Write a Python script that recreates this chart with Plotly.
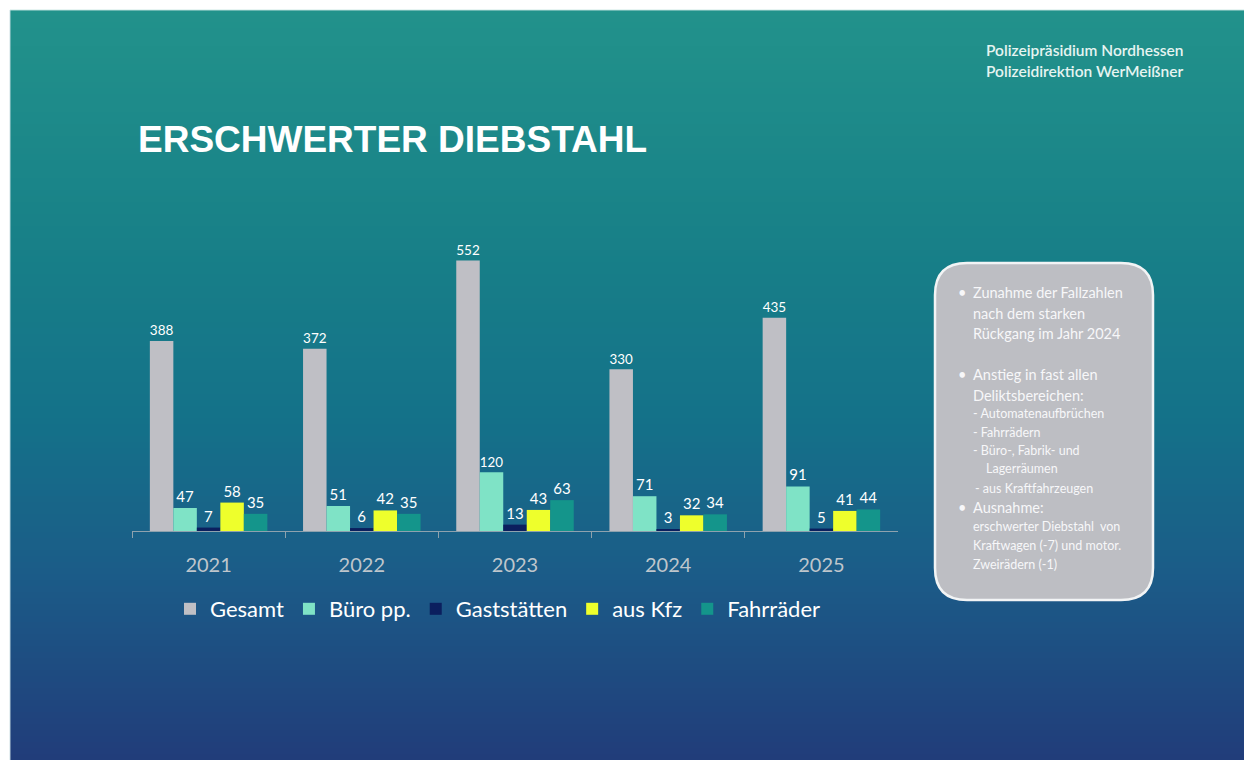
import plotly.graph_objects as go

# The page body has an 8px margin, so the figure is placed at (8, 8) on screen.
OFF = 8
W, H = 1244, 752

years = ["2021", "2022", "2023", "2024", "2025"]
series_names = ["Gesamt", "Büro pp.", "Gaststätten", "aus Kfz", "Fahrräder"]
gesamt = [388, 372, 552, 330, 435]
buero = [47, 51, 120, 71, 91]
gaststaetten = [7, 6, 13, 3, 5]
aus_kfz = [58, 42, 43, 32, 41]
fahrraeder = [35, 35, 63, 34, 44]
series_values = [gesamt, buero, gaststaetten, aus_kfz, fahrraeder]
series_colors = ["#BFBFC5", "#7FE3C6", "#0B1F5E", "#EEFF2C", "#14958B"]

title_text = "ERSCHWERTER DIEBSTAHL"
header_lines = ["Polizeipräsidium Nordhessen", "Polizeidirektion WerMeißner"]

FONT = "Lato"


def px(x):
    return (x - OFF) / W


def py(y):
    return 1 - (y - OFF) / H


fig = go.Figure()
for name, vals, col in zip(series_names, series_values, series_colors):
    fig.add_trace(go.Bar(
        name=name, x=years, y=vals, marker=dict(color=col, line=dict(width=0)),
        text=[str(v) for v in vals], textposition="outside",
        textfont=dict(family=FONT, size=15, color="white"),
        cliponaxis=False,
    ))

shapes = []
# gradient background of the slide
stops = [(0.0, (34, 146, 139)), (0.3, (24, 129, 136)), (0.55, (20, 113, 137)),
         (0.75, (27, 92, 136)), (1.0, (33, 60, 122))]


def grad(t):
    for (t0, c0), (t1, c1) in zip(stops[:-1], stops[1:]):
        if t <= t1:
            f = (t - t0) / (t1 - t0) if t1 > t0 else 0
            return tuple(int(round(a + (b - a) * f)) for a, b in zip(c0, c1))
    return stops[-1][1]


top, bottom, left, right = 10, 760, 10, 1248
step = 6
y = top
while y < bottom:
    y2 = min(y + step, bottom)
    t = ((y + y2) / 2 - top) / (bottom - top)
    c = grad(t)
    shapes.append(dict(type="rect", xref="paper", yref="paper",
                       x0=px(left), x1=px(right), y0=py(y2 + 0.5), y1=py(y),
                       fillcolor="rgb(%d,%d,%d)" % c, line=dict(width=0), layer="below"))
    y = y2
# light slide edge
shapes.append(dict(type="line", xref="paper", yref="paper", x0=px(left), x1=px(left),
                   y0=py(bottom), y1=py(top), line=dict(color="rgba(200,220,225,0.6)", width=1.5),
                   layer="below"))
shapes.append(dict(type="line", xref="paper", yref="paper", x0=px(left), x1=px(right),
                   y0=py(top), y1=py(top), line=dict(color="rgba(200,230,225,0.6)", width=1.5),
                   layer="below"))

# rounded text box
bx0, bx1, by0, by1, r = 935, 1153, 263, 600, 32


def P(x, y):
    return "%.5f,%.5f" % (px(x), py(y))


path = ("M " + P(bx0 + r, by0) + " L " + P(bx1 - r, by0) + " Q " + P(bx1, by0) + " " + P(bx1, by0 + r) +
        " L " + P(bx1, by1 - r) + " Q " + P(bx1, by1) + " " + P(bx1 - r, by1) +
        " L " + P(bx0 + r, by1) + " Q " + P(bx0, by1) + " " + P(bx0, by1 - r) +
        " L " + P(bx0, by0 + r) + " Q " + P(bx0, by0) + " " + P(bx0 + r, by0) + " Z")
shapes.append(dict(type="path", xref="paper", yref="paper", path=path,
                   fillcolor="#BDBEC3", line=dict(color="#F2F4F5", width=2.5), layer="above"))

annotations = []
annotations.append(dict(text="<b>" + title_text + "</b>", x=px(136), y=py(140), xref="paper", yref="paper",
                        xanchor="left", yanchor="middle", showarrow=False,
                        font=dict(family="Liberation Sans", size=37, color="white")))
for i, line in enumerate(header_lines):
    annotations.append(dict(text=line, x=px(984), y=py(50 + 21 * i), xref="paper", yref="paper",
                            xanchor="left", yanchor="middle", showarrow=False,
                            font=dict(family=FONT, size=15.5, color="#E6F4F1", weight=600)))

box_lines = [
    ("•", 956, 293, 14.5), ("Zunahme der Fallzahlen", 971, 293, 14.5),
    ("nach dem starken", 971, 313, 14.5), ("Rückgang im Jahr 2024", 971, 333, 14.5),
    ("•", 956, 375, 14.5), ("Anstieg in fast allen", 971, 375, 14.5),
    ("Deliktsbereichen:", 971, 395, 14.5),
    ("- Automatenaufbrüchen", 971, 413, 12.5), ("- Fahrrädern", 971, 432, 12.5),
    ("- Büro-, Fabrik- und", 971, 451, 12.5), ("Lagerräumen", 984, 469, 12.5),
    ("- aus Kraftfahrzeugen", 973, 488, 12.5),
    ("•", 956, 507, 14.5), ("Ausnahme:", 971, 507, 14.5),
    ("erschwerter Diebstahl  von", 971, 526, 12.5), ("Kraftwagen (-7) und motor.", 971, 545, 12.5),
    ("Zweirädern (-1)", 971, 564, 12.5),
]
for txt, x, y, s in box_lines:
    annotations.append(dict(text=txt, x=px(x), y=py(y), xref="paper", yref="paper",
                            xanchor="left", yanchor="middle", showarrow=False,
                            font=dict(family=FONT, size=s, color="#F7F7F9")))

fig.update_layout(
    width=W, height=H, autosize=False,
    margin=dict(l=0, r=0, t=0, b=0),
    paper_bgcolor="white", plot_bgcolor="rgba(0,0,0,0)",
    barmode="group", bargap=0.233, bargroupgap=0,
    showlegend=True,
    legend=dict(orientation="h", x=px(170), y=py(588), xanchor="left", yanchor="top",
                font=dict(family=FONT, size=22, color="white"), bgcolor="rgba(0,0,0,0)",
                itemwidth=30, traceorder="normal"),
    xaxis=dict(domain=[px(132), px(898)], type="category", showline=True, linecolor="#8EA2AE",
               linewidth=1, ticks="outside", tickson="boundaries", ticklen=6, tickcolor="#8EA2AE",
               tickfont=dict(family=FONT, size=20, color="#BFC6CC"), ticklabelstandoff=16,
               showgrid=False, zeroline=False, fixedrange=True),
    yaxis=dict(domain=[py(531), py(237)], range=[0, 600], visible=False, showgrid=False,
               zeroline=False, fixedrange=True),
    shapes=shapes, annotations=annotations,
)

fig.write_html("out.html")
